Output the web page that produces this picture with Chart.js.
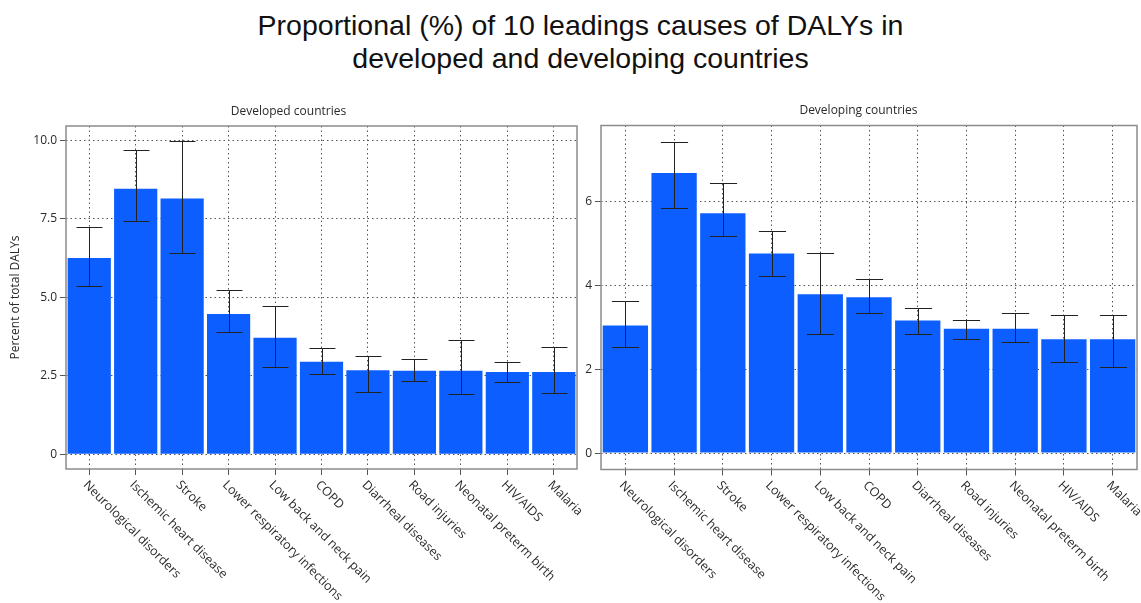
<!DOCTYPE html>
<html>
<head>
<meta charset="utf-8">
<script src="https://cdn.jsdelivr.net/npm/chart.js@4.4.1/dist/chart.umd.min.js"></script>
<style>
  body { margin: 0; background: #fff; width: 1141px; height: 603px; overflow: hidden; position: relative; }
  #title { position: absolute; left: 0; top: 9px; width: 1161px; text-align: center;
           font: 28.5px "Liberation Sans", Arial, sans-serif; line-height: 33px; color: #111; }
  canvas { position: absolute; top: 90px; }
  #left { left: 0; }
  #right { left: 580px; }
</style>
</head>
<body>
<div id="title">Proportional (%) of 10 leadings causes of DALYs in<br>developed and developing countries</div>
<canvas id="left" width="590" height="513"></canvas>
<canvas id="right" width="561" height="513"></canvas>
<script>
// categories shared by both panels
const categories = ['Neurological disorders', 'Ischemic heart disease', 'Stroke', 'Lower respiratory infections',
  'Low back and neck pain', 'COPD', 'Diarrheal diseases', 'Road injuries', 'Neonatal preterm birth', 'HIV/AIDS', 'Malaria'];

// developed countries: mean and interval
const developed = [6.25, 8.46, 8.15, 4.47, 3.71, 2.95, 2.68, 2.66, 2.66, 2.62, 2.62];
const developedLow = [5.37, 7.44, 6.41, 3.88, 2.79, 2.57, 1.97, 2.34, 1.91, 2.30, 1.94];
const developedHigh = [7.24, 9.70, 9.97, 5.22, 4.74, 3.37, 3.12, 3.03, 3.63, 2.94, 3.42];

// developing countries: mean and interval
const developing = [3.04, 6.67, 5.71, 4.75, 3.78, 3.71, 3.16, 2.96, 2.96, 2.71, 2.71];
const developingLow = [2.52, 5.83, 5.17, 4.22, 2.83, 3.33, 2.83, 2.71, 2.65, 2.18, 2.05];
const developingHigh = [3.62, 7.41, 6.42, 5.29, 4.77, 4.15, 3.46, 3.17, 3.33, 3.29, 3.29];

const barColor = '#0d5eff';
const textColor = '#2a2a2a';
const uiFont = '"Open Sans", "DejaVu Sans", sans-serif';

// error bars, plot frame and slanted category labels
const decor = {
  id: 'decor',
  afterDatasetsDraw(chart, args, opts) {
    const ctx = chart.ctx;
    const a = chart.chartArea;
    const y = chart.scales.y;
    const x = chart.scales.x;
    const meta = chart.getDatasetMeta(0);
    ctx.save();
    ctx.strokeStyle = '#222';
    ctx.lineWidth = 1;
    meta.data.forEach((bar, i) => {
      const px = Math.round(bar.x) + 0.5;
      const lo = Math.round(y.getPixelForValue(opts.low[i])) + 0.5;
      const hi = Math.round(y.getPixelForValue(opts.high[i])) + 0.5;
      const cap = bar.width * 0.3;
      ctx.beginPath();
      ctx.moveTo(px, lo); ctx.lineTo(px, hi);
      ctx.moveTo(px - cap, lo); ctx.lineTo(px + cap, lo);
      ctx.moveTo(px - cap, hi); ctx.lineTo(px + cap, hi);
      ctx.stroke();
    });
    ctx.strokeStyle = '#8c8c8c';
    ctx.lineWidth = 1.5;
    ctx.strokeRect(a.left, a.top, a.right - a.left, a.bottom - a.top);

    ctx.fillStyle = textColor;
    ctx.font = '12.5px ' + uiFont;
    ctx.textAlign = 'left';
    ctx.textBaseline = 'middle';
    categories.forEach((c, i) => {
      const px = x.getPixelForTick(i);
      ctx.save();
      ctx.translate(px - 4, a.bottom + 14);
      ctx.rotate(Math.PI / 4);
      ctx.fillText(c, 0, 0);
      ctx.restore();
    });
    ctx.restore();
  }
};

function makeChart(id, title, values, low, high, s) {
  return new Chart(document.getElementById(id), {
    type: 'bar',
    data: {
      labels: categories,
      datasets: [{
        data: values,
        backgroundColor: barColor,
        borderWidth: 0,
        barPercentage: 0.93,
        categoryPercentage: 1
      }]
    },
    options: {
      responsive: false,
      animation: false,
      layout: { padding: { left: 0, right: s.padRight, top: 0, bottom: 0 } },
      plugins: {
        legend: { display: false },
        tooltip: { enabled: false },
        title: {
          display: true,
          text: title,
          color: textColor,
          font: { family: uiFont, size: 12, weight: 'normal' },
          padding: { top: s.titleTop, bottom: 7.6 }
        },
        decor: { low: low, high: high }
      },
      scales: {
        x: {
          offset: true,
          grid: { offset: false, color: '#555', tickLength: 6, tickColor: '#555' },
          border: { display: false, dash: [1.5, 3] },
          ticks: { display: false },
          afterFit: (sc) => { sc.height = s.xHeight; }
        },
        y: {
          min: s.min,
          max: s.max,
          grid: { color: '#555', tickLength: 6, tickColor: '#555' },
          border: { display: false, dash: [1.5, 3] },
          ticks: {
            stepSize: s.step,
            includeBounds: false,
            color: textColor,
            padding: 3,
            font: { family: uiFont, size: 12 },
            callback: s.fmt
          },
          title: {
            display: !!s.yTitle,
            text: s.yTitle,
            color: textColor,
            font: { family: uiFont, size: 12 },
            padding: { top: 8, bottom: 0 }
          },
          afterFit: (sc) => { sc.width = s.yWidth; }
        }
      }
    },
    plugins: [decor]
  });
}

makeChart('left', 'Developed countries', developed, developedLow, developedHigh, {
  min: -0.47, max: 10.46, step: 2.5,
  fmt: (v) => v === 0 ? '0' : v.toFixed(1),
  yTitle: 'Percent of total DALYs',
  yWidth: 66, padRight: 13, titleTop: 14, xHeight: 134
});

makeChart('right', 'Developing countries', developing, developingLow, developingHigh, {
  min: -0.39, max: 7.8, step: 2,
  fmt: (v) => String(v),
  yTitle: '',
  yWidth: 21, padRight: 4, titleTop: 13.5, xHeight: 133.5
});
</script>
</body>
</html>
